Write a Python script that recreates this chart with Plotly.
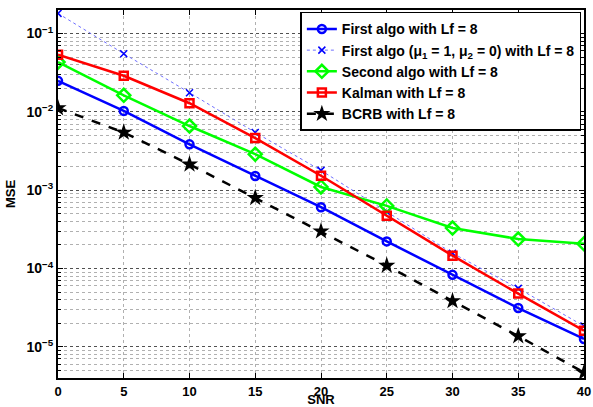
import plotly.graph_objects as go

snr = [0, 5, 10, 15, 20, 25, 30, 35, 40]

first_algo = [0.0249, 0.0103, 3.85e-3, 1.52e-3, 6.07e-4, 2.22e-4, 8.3e-5, 3.13e-5, 1.26e-5]
first_algo_mu = [0.181, 0.0553, 0.0176, 5.46e-3, 1.79e-3, 5.3e-4, 1.57e-4, 5.58e-5, 1.84e-5]
second_algo = [0.0432, 0.0163, 6.6e-3, 2.88e-3, 1.1e-3, 6.3e-4, 3.29e-4, 2.38e-4, 2.07e-4]
kalman = [0.0537, 0.0289, 0.0129, 4.63e-3, 1.53e-3, 4.72e-4, 1.46e-4, 4.78e-5, 1.61e-5]
bcrb = [0.0112, 5.46e-3, 2.14e-3, 7.98e-4, 2.99e-4, 1.09e-4, 3.85e-5, 1.37e-5, 4.7e-6]

names = [
    "First algo with Lf = 8",
    "First algo (\u03bc<sub>1</sub> = 1, \u03bc<sub>2</sub> = 0) with Lf = 8",
    "Second algo with Lf = 8",
    "Kalman with Lf = 8",
    "BCRB with Lf = 8",
]

x_ticks = [0, 5, 10, 15, 20, 25, 30, 35, 40]
y_ticks = [1e-5, 1e-4, 1e-3, 1e-2, 1e-1]
y_tick_text = ["10<sup>\u22125</sup>", "10<sup>\u22124</sup>", "10<sup>\u22123</sup>",
               "10<sup>\u22122</sup>", "10<sup>\u22121</sup>"]

FONT = "Liberation Sans, Arial, sans-serif"

fig = go.Figure()
fig.add_trace(go.Scatter(x=snr, y=first_algo, name=names[0], mode="lines+markers",
                         line=dict(color="#0000ff", width=2.5),
                         marker=dict(symbol="circle-open", size=8, color="#0000ff",
                                     line=dict(width=2.5, color="#0000ff"))))
fig.add_trace(go.Scatter(x=snr, y=first_algo_mu, name=names[1], mode="lines+markers",
                         line=dict(color="#6f6fff", width=1, dash="dot"),
                         marker=dict(symbol="x-thin-open", size=7, color="#0000ff",
                                     line=dict(width=1.5, color="#0000ff"))))
fig.add_trace(go.Scatter(x=snr, y=second_algo, name=names[2], mode="lines+markers",
                         line=dict(color="#00ff00", width=2.5),
                         marker=dict(symbol="diamond-open", size=10, color="#00ff00",
                                     line=dict(width=2.5, color="#00ff00"))))
fig.add_trace(go.Scatter(x=snr, y=kalman, name=names[3], mode="lines+markers",
                         line=dict(color="#ff0000", width=2.5),
                         marker=dict(symbol="square-open", size=8, color="#ff0000",
                                     line=dict(width=2.5, color="#ff0000"))))
fig.add_trace(go.Scatter(x=snr, y=bcrb, name=names[4], mode="lines+markers",
                         line=dict(color="#000000", width=2.5, dash="dash"),
                         marker=dict(symbol="star", size=13, color="#000000",
                                     line=dict(width=0))))

grid_col = "#b0b0b0"
fig.update_layout(
    width=593, height=407,
    margin=dict(l=58, r=9, t=10, b=29),
    paper_bgcolor="white", plot_bgcolor="white",
    font=dict(family=FONT, size=12, color="black", weight="bold"),
    showlegend=True,
    legend=dict(x=0.995, y=0.995, xanchor="right", yanchor="top",
                bgcolor="white", bordercolor="black", borderwidth=1.5,
                font=dict(family=FONT, size=14, color="black", weight="bold"),
                tracegroupgap=0, itemwidth=30),
    xaxis=dict(range=[0, 40], tickvals=x_ticks, ticktext=[str(v) for v in x_ticks],
               showline=True, linecolor="black", linewidth=2, mirror="ticks",
               ticks="inside", ticklen=5, tickwidth=1, tickcolor="black",
               showgrid=True, gridcolor=grid_col, griddash="dot", gridwidth=1,
               zeroline=False, automargin=False,
               tickfont=dict(family=FONT, size=13, color="black", weight="bold"),
               title=dict(text="SNR", standoff=0,
                          font=dict(family=FONT, size=13, color="black", weight="bold"))),
    yaxis=dict(type="log", range=[-5.398, -0.699], tickvals=y_ticks, ticktext=y_tick_text,
               showline=True, linecolor="black", linewidth=2, mirror="ticks",
               ticks="inside", ticklen=5, tickwidth=1, tickcolor="black",
               showgrid=True, gridcolor="#505050", griddash="dot", gridwidth=1,
               zeroline=False, automargin=False,
               minor=dict(dtick="D1", showgrid=True, gridcolor=grid_col, griddash="dot",
                          ticks="inside", ticklen=3, tickcolor="black"),
               tickfont=dict(family=FONT, size=14, color="black", weight="bold"),
               title=dict(text="MSE", standoff=8,
                          font=dict(family=FONT, size=13, color="black", weight="bold"))),
)

fig.write_html("out.html", config={"displayModeBar": False},
               post_script="document.body.style.margin='0';document.body.style.overflow='hidden';")
